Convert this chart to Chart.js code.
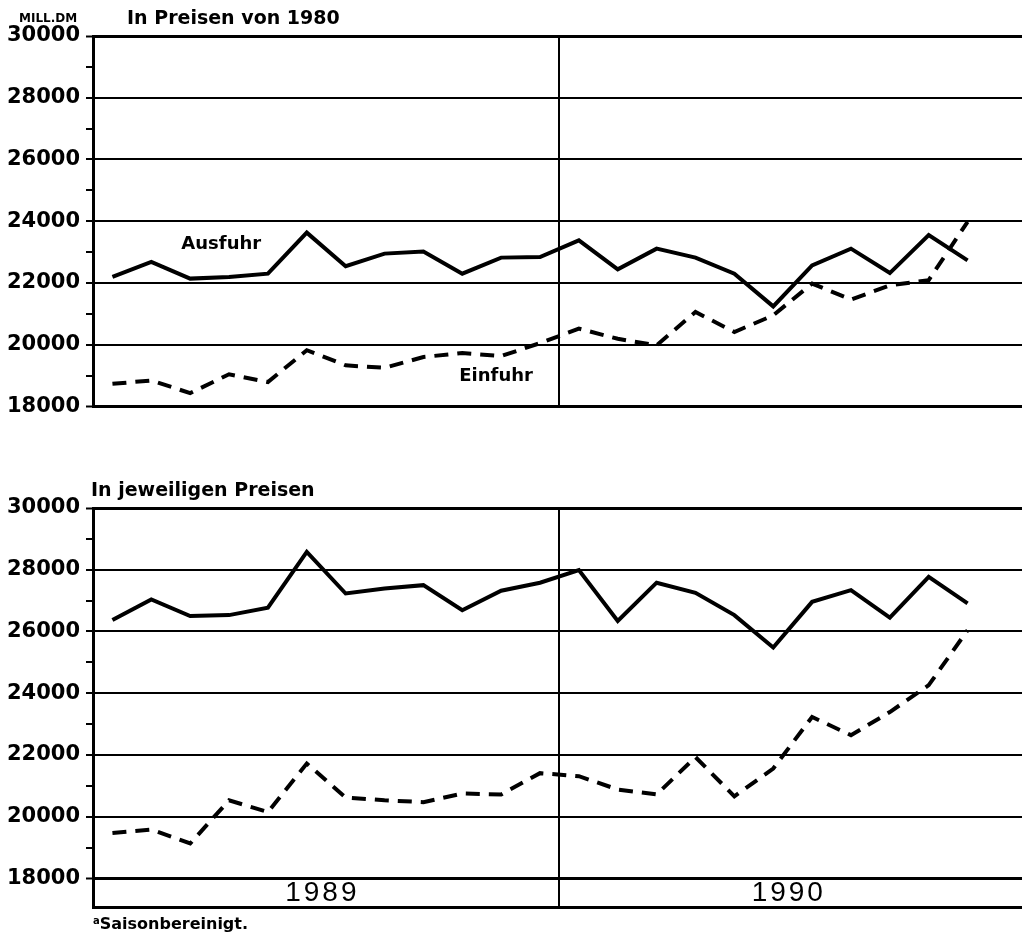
<!DOCTYPE html>
<html>
<head>
<meta charset="utf-8">
<script src="https://cdn.jsdelivr.net/npm/chart.js@4"></script>
<style>
body { margin: 0; background: #fff; width: 1022px; height: 941px; position: relative; overflow: hidden; font-family: 'DejaVu Sans', sans-serif; color: #000; }
canvas { position: absolute; left: 0; }
#top { top: 0; }
#bottom { top: 460px; }
.txt { position: absolute; font-weight: bold; white-space: nowrap; line-height: 1; }
</style>
</head>
<body>
<canvas id="top" width="1022" height="425"></canvas>
<canvas id="bottom" width="1022" height="466"></canvas>
<div class="txt" style="left:19px; top:12px; font-size:12px;">MILL.DM</div>
<div class="txt" style="left:127px; top:8px; font-size:19px;">In Preisen von 1980</div>
<div class="txt" style="left:91px; top:480px; font-size:19px;">In jeweiligen Preisen</div>
<div class="txt" style="left:93px; top:916px; font-size:16px;"><span style="font-size:10px; vertical-align:5px;">a</span>Saisonbereinigt.</div>
<script>
const months = ['Jan 89', 'Feb 89', 'Mär 89', 'Apr 89', 'Mai 89', 'Jun 89', 'Jul 89', 'Aug 89', 'Sep 89', 'Okt 89', 'Nov 89', 'Dez 89',
    'Jan 90', 'Feb 90', 'Mär 90', 'Apr 90', 'Mai 90', 'Jun 90', 'Jul 90', 'Aug 90', 'Sep 90', 'Okt 90', 'Nov 90'];
const years = ['1989', '1990'];
const yTicks = [18000, 20000, 22000, 24000, 26000, 28000, 30000];

// in Preisen von 1980
const ausfuhrReal = [22200, 22680, 22140, 22190, 22300, 23630, 22540, 22950, 23020, 22300, 22820, 22840,
    23380, 22440, 23110, 22820, 22300, 21240, 22570, 23110, 22320, 23550, 22730];
const einfuhrReal = [18730, 18840, 18430, 19040, 18790, 19820, 19330, 19250, 19600, 19730, 19630, 20050,
    20520, 20190, 19980, 21060, 20410, 20950, 21980, 21460, 21920, 22090, 23980];

// in jeweiligen Preisen
const ausfuhrNom = [26370, 27040, 26500, 26530, 26770, 28580, 27230, 27390, 27500, 26690, 27320, 27580,
    27990, 26340, 27580, 27250, 26530, 25480, 26960, 27340, 26450, 27770, 26910];
const einfuhrNom = [19470, 19580, 19130, 20530, 20150, 21720, 20620, 20530, 20470, 20750, 20720, 21410,
    21310, 20880, 20720, 21930, 20660, 21560, 23230, 22640, 23390, 24260, 26040];

Chart.defaults.font.family = "'DejaVu Sans', sans-serif";
Chart.defaults.color = '#000';

// all ticks incl. the small ones between the labelled ones
let allTicks = [];
for (let v = yTicks[0]; v <= yTicks[yTicks.length - 1]; v += 1000) allTicks.push(v);

const textMarks = {
    id: 'textMarks',
    afterDatasetsDraw(chart, args, opts) {
        const { ctx, scales: { x, y } } = chart;
        ctx.save();
        ctx.fillStyle = '#000';
        ctx.textAlign = 'center';
        ctx.textBaseline = 'middle';
        (opts.items || []).forEach(it => {
            ctx.font = it.font;
            ctx.letterSpacing = it.spacing || '0px';
            ctx.fillText(it.text, x.getPixelForValue(it.x), y.getPixelForValue(it.y));
        });
        ctx.restore();
    }
};

function makeChart(id, ausfuhr, einfuhr, yMin, padTop, padBottom, items) {
    const edge = [30000, yTicks[0]];
    return new Chart(document.getElementById(id), {
        type: 'line',
        data: {
            datasets: [{
                label: 'Ausfuhr',
                data: ausfuhr.map((v, i) => ({ x: i, y: v })),
                borderColor: '#000',
                borderWidth: 4,
                pointRadius: 0,
                tension: 0,
                fill: false
            }, {
                label: 'Einfuhr',
                data: einfuhr.map((v, i) => ({ x: i, y: v })),
                borderColor: '#000',
                borderWidth: 4,
                borderDash: [14, 9],
                pointRadius: 0,
                tension: 0,
                fill: false
            }]
        },
        options: {
            responsive: false,
            animation: false,
            layout: { padding: { top: padTop, bottom: padBottom, left: 0, right: 0 } },
            plugins: {
                legend: { display: false },
                tooltip: { enabled: false },
                textMarks: { items: items }
            },
            scales: {
                x: {
                    type: 'linear',
                    min: -0.5,
                    max: months.length + 0.4,
                    afterBuildTicks: s => { s.ticks = [{ value: 11.5 }]; },
                    ticks: { display: false },
                    grid: { color: '#000', lineWidth: 2, drawTicks: false },
                    border: { display: true, color: '#000', width: 3 },
                    afterFit: s => { s.height = 0; }
                },
                y: {
                    min: yMin,
                    max: 30000,
                    afterBuildTicks: s => { s.ticks = allTicks.map(v => ({ value: v })); },
                    ticks: {
                        autoSkip: false,
                        padding: 6,
                        font: { size: 21, weight: 'bold' },
                        callback: v => yTicks.includes(v) ? String(v) : ''
                    },
                    grid: {
                        color: c => yTicks.includes(c.tick.value) ? '#000' : 'rgba(0,0,0,0)',
                        lineWidth: c => edge.includes(c.tick.value) ? 3 : 2,
                        tickColor: '#000',
                        tickWidth: 2,
                        tickLength: 7
                    },
                    border: { display: true, color: '#000', width: 3 },
                    afterFit: s => { s.width = 93; }
                }
            }
        },
        plugins: [textMarks]
    });
}

makeChart('top', ausfuhrReal, einfuhrReal, 18000, 36, 9, [
    { text: 'Ausfuhr', x: 2.8, y: 23250, font: 'bold 18px "DejaVu Sans"' },
    { text: 'Einfuhr', x: 9.87, y: 18970, font: 'bold 18px "DejaVu Sans"' }
]);

makeChart('bottom', ausfuhrNom, einfuhrNom, 17060, 48, 7,
    years.map((yr, i) => ({ text: yr, x: i * 12 + 5.4, y: 17530, font: '28px "Liberation Sans"', spacing: '3px' }))
);
</script>
</body>
</html>
